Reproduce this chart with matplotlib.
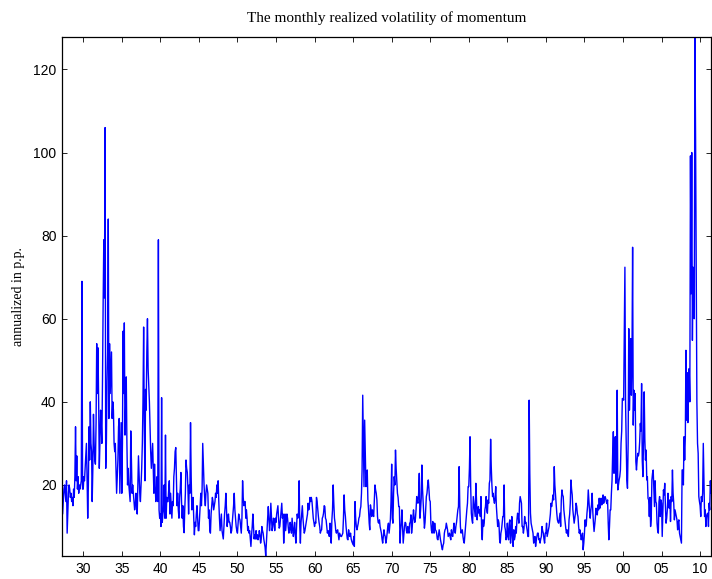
import numpy as np
import pandas as pd
import matplotlib
matplotlib.use('Agg')
import matplotlib.pyplot as plt
import matplotlib.dates as mdates
from matplotlib.ticker import MultipleLocator

# monthly realized volatility of momentum, annualized in p.p.
# series starts Mar 1927, one value per month
start_month = '1927-03'

vol_1920s = [
    20, 13, 16, 19, 20, 18, 16, 21, 8.4,
    13, 18, 20, 19, 17, 18, 16, 17, 15, 19, 17, 22,
    34, 21, 27, 19, 22, 18, 20, 19, 20, 21, 69, 19,
]
vol_1930s = [
    19, 22, 21, 24, 27, 30, 22, 12, 20, 34, 26, 40,
    30, 28, 16, 24, 37, 30, 26, 25, 35, 54, 42, 53,
    40, 24, 30, 38, 35, 30, 45, 64, 79, 65, 106, 24,
    30, 45, 52, 84, 36, 54, 42, 47, 52, 36, 40, 38,
    30, 28, 30, 24, 18, 22, 26, 34, 36, 18, 26, 35,
    18, 30, 57, 42, 59, 32, 38, 46, 30, 20, 24, 20,
    18, 16, 33, 26, 18, 20, 18, 16, 14, 15, 18, 16,
    13, 20, 27, 22, 18, 16, 20, 24, 30, 40, 58, 35,
    21, 43, 38, 52, 60, 48, 44, 40, 34, 28, 24, 27,
    30, 24, 18, 25, 20, 16, 18, 22, 16, 79, 14, 12,
]
vol_1940s = [
    13, 10, 41, 11, 13, 14, 20, 12, 32, 12, 17, 16,
    16, 19, 21, 13, 18, 15, 12, 16, 15, 22, 24, 28,
    29, 22, 15, 18, 14, 12, 17, 19, 23, 16, 12, 15,
    10, 8.5, 14, 18, 26, 24, 23, 19, 13, 20, 18, 35,
    22, 14, 16, 17, 12, 8, 11, 10, 13, 15, 12, 9,
    9, 12, 15, 18, 15, 19, 30, 25, 20, 17, 15, 18,
    20, 19, 18, 12, 14, 9, 8.4, 13, 15, 17, 16, 14,
    15, 16, 18, 17, 20, 18, 21, 16, 12, 9, 11, 13,
    9, 8, 7, 10, 13, 15, 18, 14, 10, 12, 13, 11,
    11, 10, 8.4, 9, 11, 13, 15, 18, 14, 12, 10, 9,
]
vol_1950s = [
    8.4, 11, 13, 12, 11.6, 10, 8.4, 12, 21, 17, 15, 16,
    16, 12, 14, 12, 9, 10, 8.4, 9, 7, 5.2, 8, 10,
    13, 10, 7, 8, 7, 9, 7, 8, 6.8, 7.6, 9, 8,
    6, 7, 10, 9, 8.4, 7, 6, 5, 2.9, 6, 9, 12,
    14.8, 12, 9, 11, 15.6, 12, 9, 10, 12, 11.6, 9, 12,
    11, 13, 14, 15, 12, 9.6, 10, 12, 14, 15.6, 12, 13,
    6, 10, 13, 9, 11, 13, 12, 10, 8.4, 9, 11, 10,
    8.4, 12, 10, 7.6, 9, 11, 8, 6, 10, 13, 12, 13,
    21, 10, 6, 11, 13, 15, 12, 10, 8.4, 9, 10, 11,
    12, 13, 15.6, 14, 15, 17, 16, 17, 16, 14, 12, 11,
]
vol_1960s = [
    10, 11, 10.8, 17, 16, 14, 12.4, 11, 10, 8.4, 9, 9.2,
    12, 12.4, 13.2, 15, 14.8, 12, 11.6, 10, 8.4, 9, 8.4, 7.6,
    10.8, 8, 6, 11.6, 14, 20, 15.6, 12, 10.8, 9, 8.4, 9,
    9.2, 8, 6.8, 8.4, 8, 7.6, 7.6, 8, 8.4, 12, 17.6, 14,
    12.4, 10, 8.4, 7, 6.8, 9.2, 8, 7.6, 8.4, 7, 6.4, 6,
    5.6, 7.6, 5.2, 16, 12, 10, 9.2, 10, 10.8, 12, 12.4, 14,
    14.8, 18, 23.6, 41.6, 30, 19.6, 35.6, 28, 19.6, 22, 23.6, 16.4,
    14, 10.8, 9.2, 15.2, 14, 12.4, 14, 13, 12.4, 16, 20, 18.8,
    18, 16.4, 12.4, 11, 10.8, 11.6, 10, 9.2, 8.4, 7, 6, 7.5,
    9.2, 8, 7.6, 6, 7, 8.4, 10, 10.8, 8.4, 10, 11.6, 16,
]
vol_1970s = [
    25, 12, 10.8, 18, 22, 20, 28.4, 24, 21, 18, 17, 14.8,
    14.8, 6, 9, 10.8, 14, 10, 6, 8, 10, 11, 10.8, 9,
    8.4, 10, 9, 8.4, 10.8, 11, 12.8, 8.4, 10, 12, 14, 12,
    11, 12, 14, 17.2, 16, 15.6, 18, 22.8, 12, 14, 16.8, 24.8,
    19, 16, 12.8, 9.6, 11, 14, 17.2, 18, 20, 21.2, 19, 16.4,
    16, 10.8, 9, 8.4, 11.2, 10, 8.4, 10.8, 9.2, 9, 8.4, 7,
    6.8, 8, 9.2, 8, 6.8, 6, 5, 4.4, 5.5, 6, 8.4, 9.2,
    9.5, 10.8, 10, 9.2, 7.6, 8, 8.4, 7.5, 6.8, 9.2, 8, 7.6,
    9.2, 10.8, 9.5, 8.4, 10, 11, 12.4, 14, 14.8, 24.4, 15, 10,
    8.4, 9, 9.2, 7.6, 6.5, 6, 8, 10, 12.4, 14, 15.6, 19.6,
]
vol_1980s = [
    19.6, 24, 31.6, 19.6, 13.2, 11.6, 10.8, 17.2, 15.6, 14, 12.4, 20.4,
    16.4, 11.6, 14, 14.8, 13.2, 14, 12.4, 17.2, 9.2, 6.8, 11.6, 10,
    10.8, 14, 14.8, 17.2, 14, 13.2, 16.4, 15.6, 20.4, 21.2, 31, 24.4,
    20, 17.2, 18, 16.4, 15.6, 16.8, 19.6, 14.8, 12.4, 10, 11.6, 10.8,
    6.8, 6, 8.4, 9.2, 10.8, 12.4, 12.4, 20, 10, 9.2, 6.8, 7.6,
    10.8, 7.6, 6.8, 10.8, 11.6, 6, 8.4, 12.4, 7.6, 5.2, 9.2, 6.8,
    7.6, 10, 8.4, 11.6, 13.2, 12.4, 10.8, 15.6, 17.2, 16.4, 15.6, 10,
    10, 8.4, 9.6, 12.4, 10.8, 11, 10, 9, 7.6, 7.6, 40.4, 22.8,
    13.2, 10.8, 10, 9, 8.4, 6, 7, 7.6, 5.2, 6.5, 7.6, 8.4,
    8.4, 6.8, 7, 6, 7, 7.6, 10, 9, 8.4, 7, 6, 8.4,
]
vol_1990s = [
    8.4, 10.8, 7.6, 8.4, 9.2, 10, 11.6, 13, 15.6, 14.8, 16, 17.6,
    16.4, 24.4, 20, 17.6, 15, 13.2, 11.6, 11, 10.8, 12, 13.2, 10,
    16.4, 18.8, 17.6, 17.2, 14, 12.4, 10.8, 9.5, 8.4, 9.2, 8.5, 7.6,
    11.6, 13, 15.6, 21.2, 19, 17.6, 14, 12.4, 10.8, 12, 13.2, 15.6,
    14.8, 13, 12.4, 10, 8.4, 9.2, 8, 6.8, 7.5, 8.4, 4.4, 6,
    8.4, 11.6, 10, 10.8, 13.2, 15, 18.8, 16, 13.6, 12, 14, 15.2,
    18, 13.6, 11, 8.8, 10.5, 12, 14.4, 13, 12.8, 15.2, 14, 16.8,
    14.4, 15.5, 16.8, 15.2, 16, 17.6, 15.6, 16.5, 17.2, 16.8, 16, 15.5,
    16.4, 10.8, 6.8, 10, 14, 14, 18, 21.2, 28, 32.8, 22.8, 26,
    31.6, 20.4, 28, 42.8, 18.8, 20, 21.2, 22, 23.6, 30, 33, 40.8,
]
vol_2000s = [
    40.8, 40.4, 55, 72.4, 40, 30, 21.2, 19.2, 30, 57.6, 38, 45,
    55.2, 41.6, 50, 77.2, 34.4, 42.8, 38, 42, 25.6, 23.6, 26, 27.6,
    27, 28, 30.4, 34.8, 33, 44.4, 26, 22, 30.8, 42.4, 31, 26,
    28.4, 21.2, 22, 16.8, 16.4, 12.4, 17, 10, 12, 21.2, 22.8, 23.6,
    18.8, 14.8, 21, 16, 15.6, 10.8, 9, 8.4, 16, 17.2, 12.4, 16.4,
    15.6, 7.6, 13, 18.8, 17.6, 20.4, 15.2, 10.8, 12, 14, 18, 15.6,
    14.4, 16.4, 11.2, 17.2, 16, 23.6, 18, 15.6, 11.6, 14, 13.2, 12.4,
    11.6, 9.2, 11, 11.6, 8.4, 7.6, 6.8, 6, 23.6, 23.6, 20, 31.6,
    26, 31.6, 52.4, 35.6, 47, 35, 45, 48, 40, 99.2, 66, 100,
    54.8, 72.4, 72, 60, 127.8, 103, 71, 40, 30, 27.6, 17.2, 16,
]
vol_2010s = [
    15, 12.4, 17.2, 16, 18, 30, 22, 12.4, 14, 10, 12.4, 13,
    13.2, 10, 15.6, 14, 21, 18,
]

vol = np.array(vol_1920s + vol_1930s + vol_1940s + vol_1950s + vol_1960s
               + vol_1970s + vol_1980s + vol_1990s + vol_2000s + vol_2010s)
dates = pd.date_range(start_month, periods=len(vol), freq='ME')

fig = plt.figure(figsize=(7.12, 5.79), dpi=100)
ax = fig.add_axes([62/712, 23/579, 649/712, 519/579])

ax.plot(dates, vol, color='#0000ff', linewidth=1.0)

ax.set_xlim(dates[0], dates[-1])
ax.set_ylim(vol.min(), vol.max())
ax.xaxis.set_major_locator(mdates.YearLocator(5))
ax.xaxis.set_major_formatter(mdates.DateFormatter('%y'))
ax.yaxis.set_major_locator(MultipleLocator(20))

ax.tick_params(direction='in', top=True, right=True, length=3.5, width=0.6,
               labelsize=10, pad=4)
for lab in ax.get_xticklabels() + ax.get_yticklabels():
    lab.set_family('Liberation Sans')
for sp in ax.spines.values():
    sp.set_linewidth(0.9)

ax.set_title('The monthly realized volatility of momentum',
             fontfamily='Liberation Serif', fontsize=11, pad=11)
ax.set_ylabel('annualized in p.p.', fontfamily='Liberation Serif',
              fontsize=10, labelpad=6)

fig.savefig('out.png', dpi=100)
